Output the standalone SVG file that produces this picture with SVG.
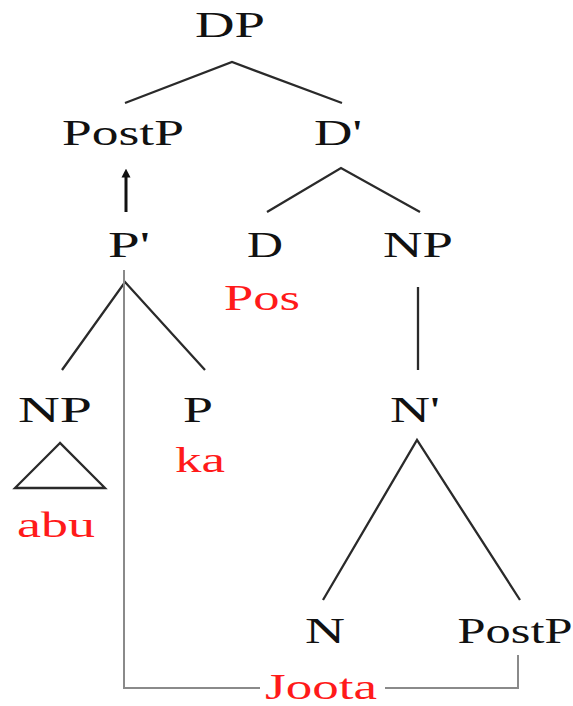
<svg xmlns="http://www.w3.org/2000/svg" width="573" height="706" viewBox="0 0 573 706">
  <style>
    .lbl { font-family: "Liberation Serif", "Times New Roman", serif; font-size: 36px; fill: #111; text-anchor: middle; }
    .lex { fill: #ff1a1a; }
    .edge { stroke: #2a2a2a; stroke-width: 2.3; fill: none; }
    .link { stroke: #8a8a8a; stroke-width: 2; fill: none; }
    .move { stroke: #111; stroke-width: 3; fill: none; }
  </style>
  <defs>
    <marker id="head" viewBox="0 0 10 10" refX="4" refY="5" markerWidth="3" markerHeight="3.5" orient="auto">
      <path d="M0,0 L10,5 L0,10 z" fill="#111"/>
    </marker>
  </defs>
  <rect width="573" height="706" fill="#fff"/>

  <!-- tree branches, movement arrow and the bracket joining the lexical item to its trace -->
  <g id="connectors">
    <path class="edge" d="M125,103 L232,62 L342,103"/>
    <path class="edge" d="M267,212 L341,168 L420,212"/>
    <path class="edge" d="M62,370 L125,282 L205,370"/>
    <path class="edge" d="M418,287 L418,370"/>
    <path class="edge" d="M323,600 L417,440 L520,600"/>
    <path class="edge" d="M60,443 L15,488 L105,488 Z"/>
    <path class="move" d="M126,212 L126,174" marker-end="url(#head)"/>
    <path class="link" d="M124,270 L124,688 L260,688"/>
    <path class="link" d="M385,688 L518,688 L518,655"/>
  </g>

  <g id="DP"><text class="lbl" x="230" y="37" textLength="70" lengthAdjust="spacingAndGlyphs">DP</text></g>
  <g id="PostP-spec"><text class="lbl" x="123" y="145" textLength="122" lengthAdjust="spacingAndGlyphs">PostP</text></g>
  <g id="Dbar"><text class="lbl" x="338" y="145" textLength="48" lengthAdjust="spacingAndGlyphs">D'</text></g>
  <g id="Pbar"><text class="lbl" x="129" y="257" textLength="42" lengthAdjust="spacingAndGlyphs">P'</text></g>
  <g id="D"><text class="lbl" x="265" y="257" textLength="36" lengthAdjust="spacingAndGlyphs">D</text></g>
  <g id="NP-comp"><text class="lbl" x="418" y="257" textLength="70" lengthAdjust="spacingAndGlyphs">NP</text></g>
  <g id="Pos"><text class="lbl lex" x="262" y="310" textLength="76" lengthAdjust="spacingAndGlyphs">Pos</text></g>
  <g id="NP-obj"><text class="lbl" x="55" y="422" textLength="74" lengthAdjust="spacingAndGlyphs">NP</text></g>
  <g id="P"><text class="lbl" x="198" y="422" textLength="30" lengthAdjust="spacingAndGlyphs">P</text></g>
  <g id="Nbar"><text class="lbl" x="415" y="422" textLength="50" lengthAdjust="spacingAndGlyphs">N'</text></g>
  <g id="ka"><text class="lbl lex" x="200" y="472" textLength="50" lengthAdjust="spacingAndGlyphs">ka</text></g>
  <g id="abu"><text class="lbl lex" x="56" y="537" textLength="78" lengthAdjust="spacingAndGlyphs">abu</text></g>
  <g id="N"><text class="lbl" x="325" y="643" textLength="40" lengthAdjust="spacingAndGlyphs">N</text></g>
  <g id="PostP-trace"><text class="lbl" x="515" y="643" textLength="115" lengthAdjust="spacingAndGlyphs">PostP</text></g>
  <g id="Joota"><text class="lbl lex" x="321" y="699" textLength="112" lengthAdjust="spacingAndGlyphs">Joota</text></g>
</svg>
